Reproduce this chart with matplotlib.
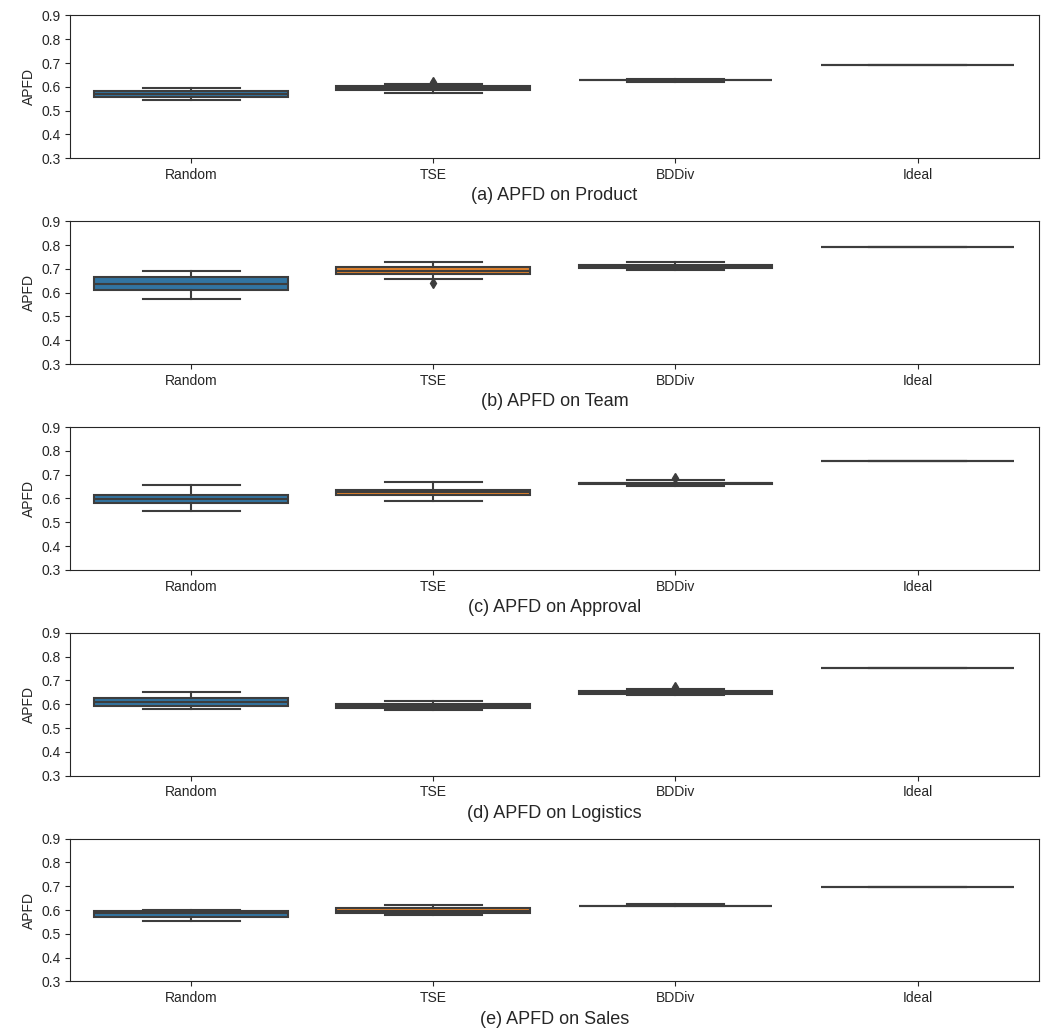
import matplotlib.pyplot as plt

plt.rcParams['font.family'] = ['Liberation Sans', 'DejaVu Sans']
plt.rcParams['text.color'] = '#262626'
plt.rcParams['axes.labelcolor'] = '#262626'
plt.rcParams['xtick.color'] = '#262626'
plt.rcParams['ytick.color'] = '#262626'
plt.rcParams['axes.edgecolor'] = '#262626'

# methods and datasets
methods = ["Random", "TSE", "BDDiv", "Ideal"]
datasets = ["Product", "Team", "Approval", "Logistics", "Sales"]
letters = ["a", "b", "c", "d", "e"]

# box statistics, one row per dataset, one column per method
whislo = [
    [0.544, 0.576, 0.619, 0.690],
    [0.573, 0.659, 0.694, 0.793],
    [0.547, 0.590, 0.653, 0.757],
    [0.578, 0.574, 0.637, 0.754],
    [0.552, 0.580, 0.616, 0.699],
]
q1 = [
    [0.557, 0.587, 0.628, 0.690],
    [0.610, 0.680, 0.702, 0.793],
    [0.580, 0.613, 0.661, 0.757],
    [0.592, 0.583, 0.645, 0.754],
    [0.569, 0.586, 0.618, 0.699],
]
med = [
    [0.569, 0.596, 0.628, 0.690],
    [0.638, 0.690, 0.708, 0.793],
    [0.597, 0.627, 0.663, 0.757],
    [0.609, 0.592, 0.650, 0.754],
    [0.586, 0.597, 0.618, 0.699],
]
q3 = [
    [0.582, 0.604, 0.628, 0.690],
    [0.666, 0.708, 0.715, 0.793],
    [0.613, 0.637, 0.665, 0.757],
    [0.628, 0.602, 0.655, 0.754],
    [0.594, 0.608, 0.618, 0.699],
]
whishi = [
    [0.594, 0.614, 0.634, 0.690],
    [0.690, 0.729, 0.729, 0.793],
    [0.656, 0.668, 0.676, 0.757],
    [0.653, 0.613, 0.666, 0.754],
    [0.600, 0.622, 0.625, 0.699],
]
fliers = [
    [[], [0.620], [], []],
    [[], [0.640], [], []],
    [[], [], [0.684], []],
    [[], [], [0.673], []],
    [[], [], [], []],
]

colors = ["#3274a1", "#e1812c", "#3a923a", "#c03d3e"]
gray = "#3d3d3d"

fig, axes = plt.subplots(5, 1, figsize=(10.46, 10.32), dpi=100)
fig.subplots_adjust(left=0.067, right=0.993, top=0.985, bottom=0.049, hspace=0.442)

for i, ax in enumerate(axes):
    stats = []
    for j, m in enumerate(methods):
        stats.append({
            "label": m,
            "whislo": whislo[i][j], "q1": q1[i][j], "med": med[i][j],
            "q3": q3[i][j], "whishi": whishi[i][j], "fliers": fliers[i][j],
        })
    bp = ax.bxp(stats, positions=range(len(methods)), widths=0.8,
                patch_artist=True, showfliers=True,
                boxprops=dict(edgecolor=gray, linewidth=1.5),
                whiskerprops=dict(color=gray, linewidth=1.5),
                capprops=dict(color=gray, linewidth=1.5),
                medianprops=dict(color=gray, linewidth=1.5),
                flierprops=dict(marker="d", markerfacecolor=gray,
                                markeredgecolor=gray, markersize=5))
    for patch, c in zip(bp["boxes"], colors):
        patch.set_facecolor(c)
    ax.set_xlim(-0.5, 3.5)
    ax.set_ylim(0.3, 0.9)
    ax.set_yticks([0.3, 0.4, 0.5, 0.6, 0.7, 0.8, 0.9])
    ax.set_xticks(range(len(methods)))
    ax.set_xticklabels(methods)
    ax.tick_params(labelsize=10)
    ax.set_ylabel("APFD", fontsize=10)
    ax.set_xlabel("(%s) APFD on %s" % (letters[i], datasets[i]), fontsize=13)

plt.savefig("out.png")
